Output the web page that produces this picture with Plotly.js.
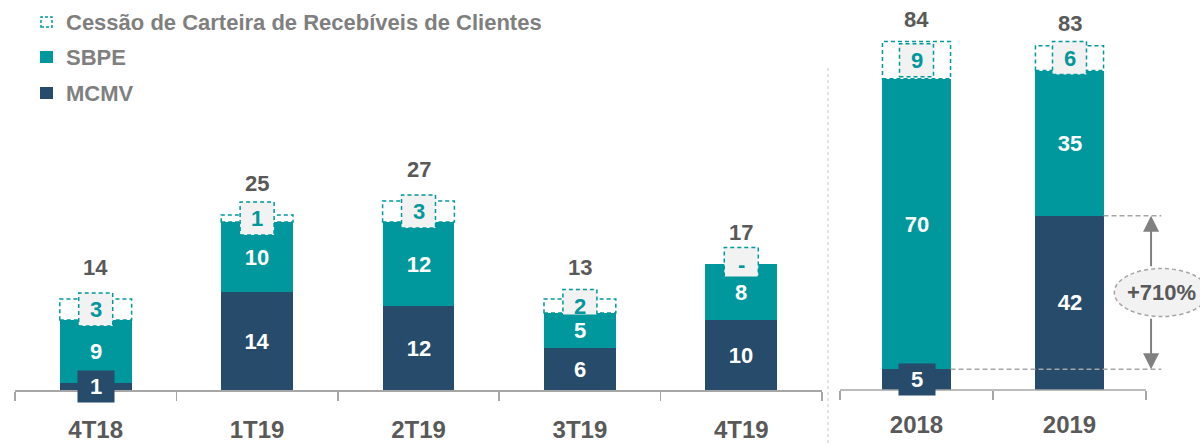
<!DOCTYPE html>
<html>
<head>
<meta charset="utf-8">
<script src="https://cdn.plot.ly/plotly-3.0.1.min.js"></script>
<style>html,body{margin:0;padding:0;background:#fff;}#chart{width:1200px;height:446px;}</style>
</head>
<body>
<div id="chart"></div>
<script>
// ---- data ----
const categoriesQ = ['4T18', '1T19', '2T19', '3T19', '4T19'];
const mcmvQ = [1, 14, 12, 6, 10];
const sbpeQ = [9, 10, 12, 5, 8];
const cessaoQ = [3, 1, 3, 2, 0];
const totalsQ = [14, 25, 27, 13, 17];

const categoriesY = ['2018', '2019'];
const mcmvY = [5, 42];
const sbpeY = [70, 35];
const cessaoY = [9, 6];
const totalsY = [84, 83];

const growthLabel = '+710%';
const seriesNames = ['Cessão de Carteira de Recebíveis de Clientes', 'SBPE', 'MCMV'];

// ---- styles ----
const NAVY = '#264B6B';
const TEAL = '#00979D';
const GREY_TXT = '#595959';
const LEG_TXT = '#7F7F7F';
const AXIS = '#A6A6A6';
const FONT = 'Liberation Sans, Arial, sans-serif';
const W = 1200, H = 446, PB = 56;      // plot bottom margin
const PH = H - PB;                      // plot height in px
const BARGAP = 0.555;
const HALF = (1 - BARGAP) / 2;

const traces = [];
function addPanel(cats, mcmv, sbpe, ces, xa, ya) {
  traces.push({type: 'bar', name: 'MCMV', x: cats, y: mcmv, xaxis: xa, yaxis: ya,
    marker: {color: NAVY, line: {width: 0}}, hoverinfo: 'skip', showlegend: false});
  traces.push({type: 'bar', name: 'SBPE', x: cats, y: sbpe, xaxis: xa, yaxis: ya,
    marker: {color: TEAL, line: {width: 0}}, hoverinfo: 'skip', showlegend: false});
  traces.push({type: 'bar', name: 'Cessão', x: cats, y: ces, xaxis: xa, yaxis: ya,
    marker: {color: '#FFFFFF', line: {width: 0}}, hoverinfo: 'skip', showlegend: false});
}
addPanel(categoriesQ, mcmvQ, sbpeQ, cessaoQ, 'x', 'y');
addPanel(categoriesY, mcmvY, sbpeY, cessaoY, 'x2', 'y2');

const shapes = [];
const annotations = [];
const boldFont = (size, color) => ({family: FONT, size: size, color: color, weight: 'bold'});

function decoratePanel(cats, mcmv, sbpe, ces, tot, xa, ya, totShift) {
  cats.forEach((c, i) => {
    const base2 = mcmv[i] + sbpe[i];
    const top = base2 + ces[i];
    // dashed outline of Cessão segment
    if (ces[i] > 0) {
      shapes.push({type: 'rect', xref: xa, yref: ya, x0: i - HALF, x1: i + HALF, y0: base2, y1: top,
        line: {color: TEAL, width: 1.5, dash: '4px,3px'}, fillcolor: 'rgba(0,0,0,0)', layer: 'above'});
    }
    // label box for Cessão value
    shapes.push({type: 'rect', xref: xa, yref: ya, xsizemode: 'pixel', ysizemode: 'pixel',
      xanchor: i, yanchor: base2 + ces[i] / 2, x0: -17, x1: 17, y0: -16.5, y1: 16.5,
      line: {color: TEAL, width: 1.5, dash: '4px,3px'}, fillcolor: '#F2F2F2', layer: 'above'});
    annotations.push({xref: xa, yref: ya, x: i, y: base2 + ces[i] / 2, text: ces[i] > 0 ? String(ces[i]) : '-',
      showarrow: false, font: boldFont(22, TEAL)});
    // MCMV label
    annotations.push({xref: xa, yref: ya, x: i, y: mcmv[i] / 2, text: String(mcmv[i]), showarrow: false,
      font: boldFont(22, '#FFFFFF'), bgcolor: NAVY, width: 34, height: 29, valign: 'middle'});
    // SBPE label
    annotations.push({xref: xa, yref: ya, x: i, y: mcmv[i] + sbpe[i] / 2, text: String(sbpe[i]), showarrow: false,
      font: boldFont(22, '#FFFFFF'), bgcolor: TEAL, width: 34, height: 29, valign: 'middle'});
    // total
    annotations.push({xref: xa, yref: ya, x: i, y: top, yshift: totShift, text: String(tot[i]),
      showarrow: false, font: boldFont(22, GREY_TXT), yanchor: 'middle'});
  });
}
decoratePanel(categoriesQ, mcmvQ, sbpeQ, cessaoQ, totalsQ, 'x', 'y', 32);
decoratePanel(categoriesY, mcmvY, sbpeY, cessaoY, totalsY, 'x2', 'y2', 22);

// axis line of the annual panel (its x range is widened to host the growth callout)
shapes.push({type: 'line', xref: 'x2', yref: 'paper', x0: -0.5, x1: 1.5, y0: 0, y1: 0,
  line: {color: AXIS, width: 1.5}});

// separator
shapes.push({type: 'line', xref: 'paper', yref: 'paper', x0: 828 / W, x1: 828 / W,
  y0: (PH - 68) / PH, y1: (PH - H) / PH, line: {color: '#C8C8C8', width: 1, dash: 'dot'}});

// growth callout: dashed guides from the MCMV tops, double arrow, ellipse
const calloutX = 1.6, arrowX = 1.533;
shapes.push({type: 'line', xref: 'x2', yref: 'y2', x0: 1 + HALF, x1: calloutX, y0: mcmvY[1], y1: mcmvY[1],
  line: {color: AXIS, width: 1.5, dash: '5px,3px'}});
shapes.push({type: 'line', xref: 'x2', yref: 'y2', x0: 0 + HALF, x1: calloutX, y0: mcmvY[0], y1: mcmvY[0],
  line: {color: AXIS, width: 1.5, dash: '5px,3px'}});
annotations.push({xref: 'x2', yref: 'y2', x: arrowX, y: mcmvY[1], text: '', showarrow: true,
  ax: 0, ay: 52, arrowhead: 2, arrowsize: 1.6, arrowwidth: 2, arrowcolor: '#808080', standoff: 0});
annotations.push({xref: 'x2', yref: 'y2', x: arrowX, y: mcmvY[0], text: '', showarrow: true,
  ax: 0, ay: -52, arrowhead: 2, arrowsize: 1.6, arrowwidth: 2, arrowcolor: '#808080', standoff: 0});
const midY = (mcmvY[0] + mcmvY[1]) / 2;
shapes.push({type: 'circle', xref: 'x2', yref: 'y2', xsizemode: 'pixel', ysizemode: 'pixel',
  xanchor: calloutX, yanchor: midY, x0: -47, x1: 47, y0: -24, y1: 24,
  fillcolor: '#F2F2F2', line: {color: AXIS, width: 1.5, dash: '4px,3px'}, layer: 'above'});
annotations.push({xref: 'x2', yref: 'y2', x: calloutX, y: midY, text: growthLabel, showarrow: false,
  font: boldFont(22, GREY_TXT)});

// custom legend
const legRowsPx = [22, 57, 93];
seriesNames.forEach((name, k) => {
  const py = legRowsPx[k];
  if (k === 0) {
    shapes.push({type: 'rect', xref: 'paper', yref: 'paper', x0: 41 / W, x1: 52 / W,
      y0: (PH - (py + 5)) / PH, y1: (PH - (py - 5)) / PH,
      fillcolor: '#FFFFFF', line: {color: TEAL, width: 1.5, dash: '3px,2px'}});
  } else {
    shapes.push({type: 'rect', xref: 'paper', yref: 'paper', x0: 40 / W, x1: 53 / W,
      y0: (PH - (py + 6)) / PH, y1: (PH - (py - 6)) / PH,
      fillcolor: k === 1 ? TEAL : NAVY, line: {width: 0}});
  }
  annotations.push({xref: 'paper', yref: 'paper', x: 64 / W, y: (PH - py) / PH, xanchor: 'left', yanchor: 'middle',
    text: name, showarrow: false, font: boldFont(22, LEG_TXT)});
});

const xCommon = {
  type: 'category', tickson: 'boundaries', ticks: 'outside', ticklen: 9, tickwidth: 1.5, tickcolor: AXIS,
  showgrid: false, zeroline: false, fixedrange: true,
  tickfont: boldFont(24, GREY_TXT), ticklabelstandoff: 18
};

const layout = {
  width: W, height: H,
  margin: {l: 0, r: 0, t: 0, b: PB, pad: 0},
  paper_bgcolor: '#FFFFFF', plot_bgcolor: 'rgba(0,0,0,0)',
  barmode: 'stack', bargap: BARGAP,
  showlegend: false,
  font: {family: FONT},
  xaxis: Object.assign({}, xCommon, {domain: [15 / W, 822 / W], range: [-0.5, 4.5], anchor: 'y',
    showline: true, linecolor: AXIS, linewidth: 1.5}),
  yaxis: {domain: [0, 1], range: [0, PH / 7], visible: false, fixedrange: true, anchor: 'x'},
  xaxis2: Object.assign({}, xCommon, {domain: [840 / W, 1], range: [-0.5, 1.5 + 54 / 153], anchor: 'y2',
    showline: false}),
  yaxis2: {domain: [0, 1], range: [0, 94], visible: false, fixedrange: true, anchor: 'x2'},
  shapes: shapes,
  annotations: annotations
};

Plotly.newPlot('chart', traces, layout, {displayModeBar: false, staticPlot: true});
</script>
</body>
</html>
